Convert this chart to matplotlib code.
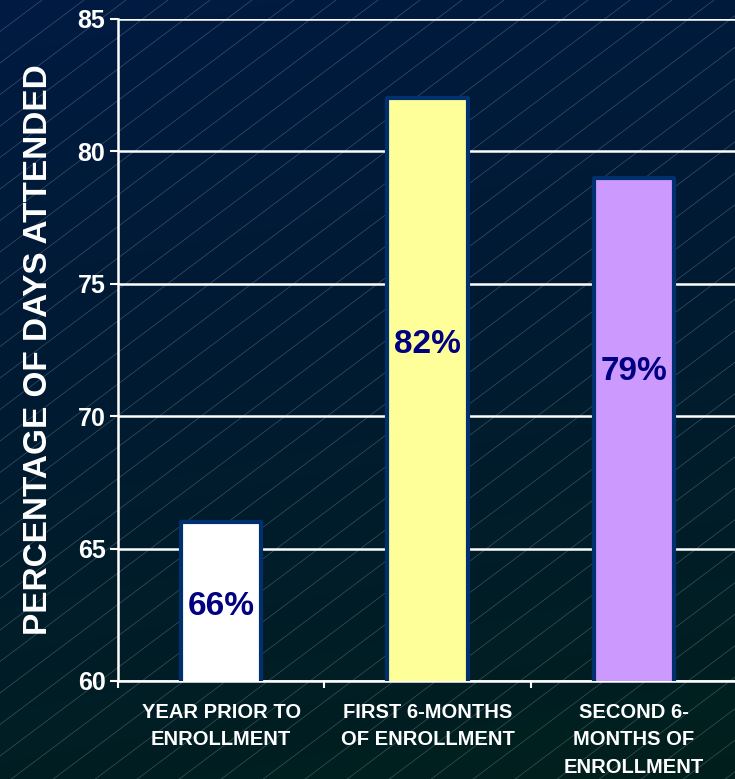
import numpy as np
import matplotlib
matplotlib.use("Agg")
import matplotlib.pyplot as plt
from matplotlib.colors import LinearSegmentedColormap

plt.rcParams['font.family'] = ['Liberation Sans', 'DejaVu Sans']

# Data
categories = ["YEAR PRIOR TO\nENROLLMENT",
              "FIRST 6-MONTHS\nOF ENROLLMENT",
              "SECOND 6-\nMONTHS OF\nENROLLMENT"]
values = [66, 82, 79]
value_labels = ["66%", "82%", "79%"]
label_y = [62.8, 72.7, 71.7]
bar_colors = ["#ffffff", "#ffff99", "#cc99ff"]
y_ticks = [60, 65, 70, 75, 80, 85]

W, H = 735, 779
fig = plt.figure(figsize=(W / 100, H / 100), dpi=100)

# Background: gradient with fine diagonal hatching
bg = fig.add_axes([0, 0, 1, 1], zorder=0)
bg.axis("off")
cmap = LinearSegmentedColormap.from_list(
    "bg", ["#001a42", "#001a36", "#001d2a", "#00201c"])
yy, xx = np.mgrid[0:H, 0:W]
grad = (yy / H) * 0.85 + (xx / W) * 0.15
bg.imshow(grad, cmap=cmap, extent=[0, W, 0, H], aspect="auto",
          origin="upper", vmin=0, vmax=1)
slope = 0.75
spacing = 42
for x0 in np.arange(-H / slope, W + spacing, spacing):
    bg.plot([x0, x0 + H / slope], [0, H], color="#a8b4c0",
            lw=0.5, alpha=0.35)
bg.set_xlim(0, W)
bg.set_ylim(0, H)

# Main axes
left = 118 / W
bottom = (H - 681) / H
top = (H - 19) / H
ax = fig.add_axes([left, bottom, 737 / W - left, top - bottom], zorder=1)
ax.patch.set_alpha(0)

x = np.arange(len(categories))
ax.bar(x, values, bottom=0, width=0.39, color=bar_colors,
       edgecolor="#00306e", linewidth=3, joinstyle="round", zorder=3)
ax.set_ylim(60, 85)
ax.set_xlim(-0.5, len(categories) - 0.5)

for xi, lab, ly in zip(x, value_labels, label_y):
    ax.text(xi, ly, lab, ha="center", va="center", color="#000080",
            fontsize=24, fontweight="bold", zorder=4)

ax.set_yticks(y_ticks)
ax.set_yticklabels([str(t) for t in y_ticks], fontsize=18,
                   fontweight="bold", color="white")
ax.yaxis.grid(True, color="white", lw=1.8, zorder=1)
ax.set_axisbelow(True)
ax.tick_params(axis="y", length=6, width=1.5, color="white", pad=3)

ax.set_xticks(x)
ax.set_xticklabels(categories, fontsize=14.5, fontweight="bold",
                   color="white", linespacing=1.55, va="top")
ax.tick_params(axis="x", which="major", length=0, pad=16)
ax.set_xticks(np.arange(-0.5, len(categories)), minor=True)
ax.tick_params(axis="x", which="minor", length=5, width=1.5,
               color="white", direction="out")

for s in ["top", "right"]:
    ax.spines[s].set_visible(False)
for s in ["left", "bottom"]:
    ax.spines[s].set_color("white")
    ax.spines[s].set_linewidth(1.8)

ax.set_ylabel("PERCENTAGE OF DAYS ATTENDED", fontsize=24,
              fontweight="bold", color="white", labelpad=17)

fig.savefig("out.png", dpi=100)
